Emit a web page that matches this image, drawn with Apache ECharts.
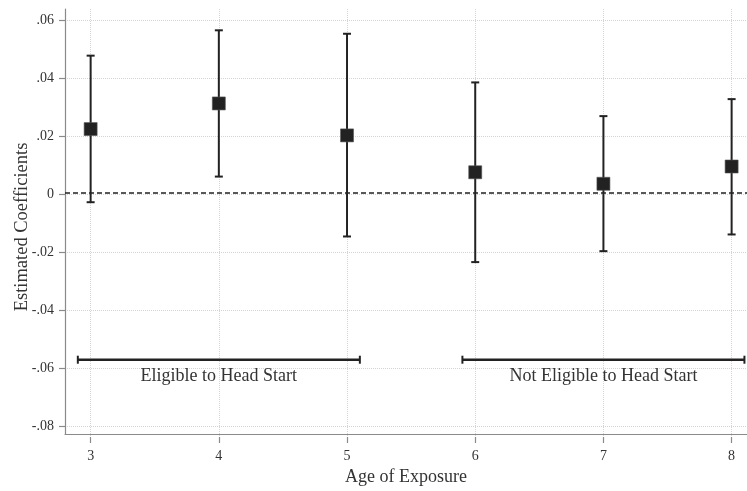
<!DOCTYPE html>
<html>
<head>
<meta charset="utf-8">
<script src="https://cdn.jsdelivr.net/npm/echarts@6/dist/echarts.min.js"></script>
<style>
html,body{margin:0;padding:0;background:#fff;}
#chart{width:747px;height:491px;}
</style>
</head>
<body>
<div id="chart"></div>
<script>
// ---- data ----
const ages = [3, 4, 5, 6, 7, 8];
const estimates = [0.0221, 0.0310, 0.0199, 0.0071, 0.0031, 0.0091];
const ciLower = [-0.0033, 0.0056, -0.0152, -0.0241, -0.0203, -0.0145];
const ciUpper = [0.0476, 0.0564, 0.0552, 0.0383, 0.0266, 0.0325];

const yTickValues = [-0.08, -0.06, -0.04, -0.02, 0, 0.02, 0.04, 0.06];
const yTickLabels = ['-.08', '-.06', '-.04', '-.02', '0', '.02', '.04', '.06'];
const xTickLabels = ['3', '4', '5', '6', '7', '8'];

const groupLabels = ['Eligible to Head Start', 'Not Eligible to Head Start'];
const groupStart = [2.9, 5.9];
const groupEnd = [5.1, 8.1];
const groupLabelX = [4, 7];
const groupLineY = -0.058;
const groupLabelY = -0.0636;

const xMin = 2.8, xMax = 8.12;
const yMin = -0.0838, yMax = 0.0638;

// ---- layout ----
const G = {left: 65, top: 9, width: 682, height: 428};
const pxY = G.height / (yMax - yMin);
const pxX = G.width / (xMax - xMin);
const yTickTop = G.top + (yMax - yTickValues[yTickValues.length - 1]) * pxY;
const yTickHeight = (yTickValues[yTickValues.length - 1] - yTickValues[0]) * pxY;
const xTickLeft = G.left + (ages[0] - xMin) * pxX;
const xTickWidth = (ages[ages.length - 1] - ages[0]) * pxX;

const FONT = '"Liberation Serif", "DejaVu Serif", serif';
const TXT = '#333';
const AX = '#8a8a8a';
const GRID = '#d4d4d4';
const DARK = '#222';

const chart = echarts.init(document.getElementById('chart'), null, {renderer: 'canvas'});

const errData = ages.map((a, i) => [a, ciLower[i], ciUpper[i]]);
const pointData = ages.map((a, i) => [a, estimates[i]]);
const bracketData = groupStart.map((s, i) => [s, groupEnd[i], groupLineY]);
const labelData = groupLabels.map((t, i) => [groupLabelX[i], groupLabelY, t]);

chart.setOption({
  animation: false,
  backgroundColor: '#fff',
  grid: [
    {left: G.left, top: G.top, width: G.width, height: G.height},
    {left: G.left, top: yTickTop, width: G.width, height: yTickHeight},
    {left: xTickLeft, top: G.top, width: xTickWidth, height: G.height}
  ],
  xAxis: [
    {
      gridIndex: 0, type: 'value', min: xMin, max: xMax,
      axisLine: {show: true, onZero: false, lineStyle: {color: AX, width: 1.2}},
      axisTick: {show: false}, axisLabel: {show: false}, splitLine: {show: false},
      name: 'Age of Exposure', nameLocation: 'middle', nameGap: 34,
      nameTextStyle: {fontFamily: FONT, fontSize: 18, color: TXT}
    },
    {gridIndex: 1, type: 'value', min: xMin, max: xMax, show: false},
    {
      gridIndex: 2, type: 'value', min: ages[0], max: ages[ages.length - 1], interval: 1,
      axisLine: {show: false, onZero: false},
      axisTick: {show: true, inside: false, length: 6, lineStyle: {color: AX, width: 1.2}},
      axisLabel: {
        margin: 12, fontFamily: FONT, fontSize: 14, color: TXT,
        formatter: v => xTickLabels[ages.indexOf(Math.round(v))] || ''
      },
      splitLine: {show: true, lineStyle: {color: GRID, type: 'dotted', width: 1}}
    }
  ],
  yAxis: [
    {
      gridIndex: 0, type: 'value', min: yMin, max: yMax,
      axisLine: {show: true, onZero: false, lineStyle: {color: AX, width: 1.2}},
      axisTick: {show: false}, axisLabel: {show: false}, splitLine: {show: false}
    },
    {
      gridIndex: 1, type: 'value', min: yTickValues[0], max: yTickValues[yTickValues.length - 1], interval: 0.02,
      axisLine: {show: false, onZero: false},
      axisTick: {show: true, inside: false, length: 6, lineStyle: {color: AX, width: 1.2}},
      axisLabel: {
        margin: 11, fontFamily: FONT, fontSize: 14, color: TXT,
        formatter: v => {
          const idx = yTickValues.findIndex(t => Math.abs(t - v) < 1e-9);
          return idx >= 0 ? yTickLabels[idx] : '';
        }
      },
      splitLine: {show: true, lineStyle: {color: GRID, type: 'dotted', width: 1}}
    },
    {gridIndex: 2, type: 'value', min: yMin, max: yMax, show: false}
  ],
  graphic: [{
    type: 'text', x: 22, y: 227, rotation: Math.PI / 2,
    style: {
      text: 'Estimated Coefficients', fontFamily: FONT, fontSize: 18.5, fill: TXT,
      align: 'center', verticalAlign: 'middle'
    }
  }],
  series: [
    {
      type: 'custom', xAxisIndex: 0, yAxisIndex: 0, z: 3,
      data: errData,
      renderItem: (params, api) => {
        const x = api.value(0);
        const lo = api.coord([x, api.value(1)]);
        const hi = api.coord([x, api.value(2)]);
        const cap = 4;
        const st = {stroke: DARK, lineWidth: 2};
        return {
          type: 'group',
          children: [
            {type: 'line', shape: {x1: lo[0], y1: lo[1], x2: hi[0], y2: hi[1]}, style: st},
            {type: 'line', shape: {x1: lo[0] - cap, y1: lo[1], x2: lo[0] + cap, y2: lo[1]}, style: st},
            {type: 'line', shape: {x1: hi[0] - cap, y1: hi[1], x2: hi[0] + cap, y2: hi[1]}, style: st}
          ]
        };
      },
      markLine: {
        silent: true, symbol: 'none', z: 2,
        lineStyle: {color: DARK, type: [5, 3], width: 1.5},
        label: {show: false},
        data: [{yAxis: 0}]
      }
    },
    {
      type: 'scatter', xAxisIndex: 0, yAxisIndex: 0, z: 4,
      symbol: 'rect', symbolSize: 13,
      itemStyle: {color: DARK, opacity: 1, borderColor: '#555', borderWidth: 0.6},
      data: pointData
    },
    {
      type: 'custom', xAxisIndex: 0, yAxisIndex: 0, z: 3,
      data: bracketData,
      renderItem: (params, api) => {
        const a = api.coord([api.value(0), api.value(2)]);
        const b = api.coord([api.value(1), api.value(2)]);
        const h = 4;
        const st = {stroke: DARK, lineWidth: 2.5};
        const st2 = {stroke: DARK, lineWidth: 2};
        return {
          type: 'group',
          children: [
            {type: 'line', shape: {x1: a[0], y1: a[1], x2: b[0], y2: b[1]}, style: st},
            {type: 'line', shape: {x1: a[0], y1: a[1] - h, x2: a[0], y2: a[1] + h}, style: st2},
            {type: 'line', shape: {x1: b[0], y1: b[1] - h, x2: b[0], y2: b[1] + h}, style: st2}
          ]
        };
      }
    },
    {
      type: 'custom', xAxisIndex: 0, yAxisIndex: 0, z: 3,
      data: labelData,
      renderItem: (params, api) => {
        const p = api.coord([api.value(0), api.value(1)]);
        return {
          type: 'text', x: p[0], y: p[1],
          style: {
            text: labelData[params.dataIndex][2],
            fontFamily: FONT, fontSize: 18, fill: TXT,
            align: 'center', verticalAlign: 'middle'
          }
        };
      }
    }
  ]
});
</script>
</body>
</html>
